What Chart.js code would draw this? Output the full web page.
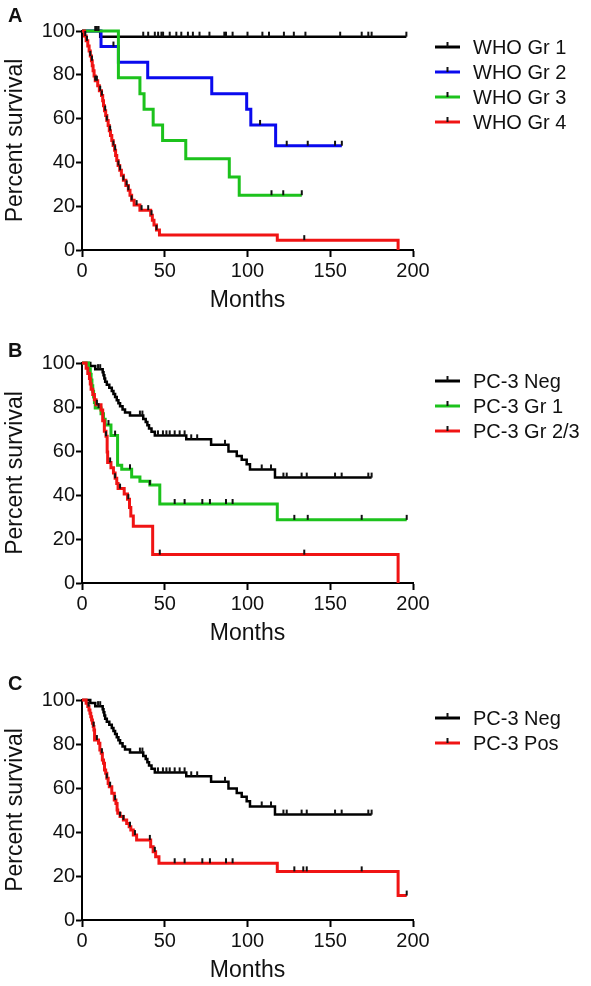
<!DOCTYPE html>
<html>
<head>
<meta charset="utf-8">
<script src="https://cdn.jsdelivr.net/npm/chart.js@4.4.1/dist/chart.umd.min.js"></script>
<style>
  body { margin: 0; background: #fff; }
  .panel { position: absolute; left: 0; }
</style>
</head>
<body>
<canvas id="chartA" class="panel" width="591" height="320" style="top:0px"></canvas>
<canvas id="chartB" class="panel" width="591" height="330" style="top:320px"></canvas>
<canvas id="chartC" class="panel" width="591" height="336" style="top:650px"></canvas>
<script>
const FONT = "'Liberation Sans', Arial, sans-serif";

// axis ticks
const monthTicks = [0, 50, 100, 150, 200];
const percentTicks = [0, 20, 40, 60, 80, 100];

// Panel A - WHO grade
const who1Times = [0, 11];
const who1Surv = [100, 97.4];
const who1Censor = [8, 9, 10, 37, 40, 44, 46, 48, 49, 53, 57, 60, 64, 67, 71, 77, 86, 87, 91, 100, 109, 113, 122, 128, 135, 156, 169, 173, 175, 196];

const who2Times = [0, 11.5, 22, 39.7, 78.4, 99.5, 102, 117];
const who2Surv = [100, 92.9, 85.7, 78.6, 71.4, 64.3, 57.1, 47.6];
const who2Censor = [19, 107.6, 123.7, 136.4, 152.9, 157];

const who3Times = [0, 22, 35, 37.5, 43, 48.7, 62.7, 89, 95];
const who3Surv = [100, 78.6, 71.4, 64.3, 57.1, 50, 41.7, 33.3, 25];
const who3Censor = [114.5, 121.6, 132.8];

const who4Times = [0, 1.5, 2.5, 3.5, 4.3, 5, 5.7, 6.2, 6.7, 7.3, 8, 9.5, 10.5, 11.8, 12.5, 13, 13.6, 14.3, 15, 15.8, 16.5, 17.2, 18, 18.8, 19.7, 20.3, 21, 21.8, 22.8, 23.8, 25, 26.5, 28, 29, 30, 31.5, 35, 41.5, 42.5, 43.5, 45, 46.8, 118, 191];
const who4Surv = [100, 97.7, 95.5, 93.2, 90.9, 88.6, 86.4, 84.1, 81.8, 79.5, 77.3, 75, 72.7, 70.5, 68.2, 65.9, 63.6, 61.4, 59.1, 56.8, 54.5, 52.3, 50, 47.7, 45.5, 43.2, 40.9, 38.6, 36.4, 34.1, 31.8, 29.5, 27.3, 25, 22.7, 20.5, 18.2, 15.9, 13.6, 11.4, 9.1, 6.8, 4.5, 0];
const who4Censor = [2, 3, 5, 6, 8, 9, 11, 12, 14, 15, 17, 19, 20, 22, 23, 25, 27, 28, 30, 33, 36, 40, 42, 45, 134.3];

// Panels B and C - PC-3
const pc3NegTimes = [0, 5, 8, 12.5, 13, 13.5, 14, 15, 16.5, 18, 19, 20, 21, 22, 23, 24.5, 26, 29, 37, 38.5, 39.5, 40.5, 42, 44, 63, 78, 88.5, 93.5, 96.5, 99.5, 101.5, 116.6];
const pc3NegSurv = [100, 98.6, 97.2, 95.8, 94.4, 93, 91.5, 90.1, 88.7, 87.3, 85.9, 84.5, 83.1, 81.7, 80.3, 78.9, 77.5, 76.1, 74.6, 73.2, 71.7, 70.2, 68.7, 67.1, 65.3, 62.8, 59.8, 57.7, 56, 54, 51.6, 47.9];
const pc3NegCensor = [9.7, 11, 35, 36.5, 45.9, 48.9, 51, 53, 56, 59, 62, 66, 69.6, 86.4, 108.6, 114.2, 121.7, 123.7, 132.7, 135.8, 152.9, 156.9, 173, 175];

const pc3Gr1Times = [0, 4, 5, 5.5, 6, 6.5, 7, 7.5, 8, 11.5, 13, 14, 17.5, 21.5, 24, 30, 35, 41, 47, 118];
const pc3Gr1Surv = [100, 97.4, 94.9, 92.3, 89.7, 87.2, 84.6, 82, 79.5, 76.9, 74.4, 71.8, 67, 53.5, 51.7, 48.2, 46.3, 44.5, 35.9, 28.7];
const pc3Gr1Censor = [10, 16, 20, 29, 41, 56, 62, 72.7, 77.3, 87, 91, 128.3, 136.4, 169, 196.2];

const pc3Gr23Times = [0, 2.5, 3.5, 4.5, 5, 5.5, 6.5, 7.5, 8.5, 11.5, 12.5, 13.5, 14.5, 15.2, 15.5, 17.5, 19, 20, 21, 21.8, 25.5, 27.5, 28.7, 29.5, 31, 42.7, 191];
const pc3Gr23Surv = [100, 97.6, 95.2, 92.9, 90.5, 88.1, 85.7, 83.3, 81, 78.6, 73.8, 69, 66.7, 59.5, 54.8, 52.4, 50, 47.6, 45.2, 42.9, 40.5, 38.1, 34.3, 30.5, 25.8, 12.9, 0];
const pc3Gr23Censor = [9, 14.5, 17, 20, 23, 28, 47, 134.3];

const pc3PosTimes = [0, 2.5, 3.5, 4.2, 4.8, 5.3, 5.8, 6.3, 6.8, 7.2, 7.6, 10, 10.8, 11.6, 12.3, 13, 13.6, 14.3, 15, 15.8, 16.5, 18, 19.5, 20.5, 21.2, 21.6, 23, 25, 27, 28.5, 29.5, 31, 33, 41.5, 43, 44.5, 46.5, 118, 191];
const pc3PosSurv = [100, 98.5, 97, 95.5, 94, 92.4, 90.9, 89.4, 87.9, 86.4, 81.8, 80.3, 77.3, 75.8, 72.7, 71.2, 68.2, 66.7, 64.4, 62.1, 60.6, 57.6, 54.5, 53, 50, 48.5, 47, 45.5, 43.9, 42.4, 40.9, 38.6, 36.4, 33.3, 31, 28.8, 25.8, 22.1, 11.1];
const pc3PosCensor = [4, 7, 9, 12, 15, 17, 20, 23, 25, 29, 32, 41, 44, 56, 62, 72.7, 77.3, 87, 91, 128.3, 133.7, 135.8, 169, 196.2];

const BLACK = "#000000";
const BLUE = "#0a0aee";
const GREEN = "#1cc21c";
const RED = "#f01414";

function kmPoints(times, surv, censor) {
    const pts = times.map((t, i) => ({ x: t, y: surv[i] }));
    const last = censor.length ? Math.max(...censor) : 0;
    if (last > times[times.length - 1]) {
        pts.push({ x: last, y: surv[surv.length - 1] });
    }
    return pts;
}

function survAt(times, surv, t) {
    let s = surv[0];
    for (let i = 0; i < times.length; i++) {
        if (times[i] <= t) s = surv[i];
    }
    return s;
}

// legend drawn to the right of the plot, plus panel letter
const sideLegend = {
    id: "sideLegend",
    afterDraw(chart, args, opts) {
        const ctx = chart.ctx;
        const x0 = chart.chartArea.right + 22;
        ctx.save();
        ctx.font = "20px " + FONT;
        ctx.textBaseline = "middle";
        let y = opts.top;
        chart.data.datasets.filter(d => d.isCurve).forEach(d => {
            ctx.strokeStyle = d.borderColor;
            ctx.lineWidth = 3;
            ctx.beginPath();
            ctx.moveTo(x0, y);
            ctx.lineTo(x0 + 25, y);
            ctx.stroke();
            ctx.strokeStyle = "#111";
            ctx.lineWidth = 2;
            ctx.beginPath();
            ctx.moveTo(x0 + 12.5, y);
            ctx.lineTo(x0 + 12.5, y - 5);
            ctx.stroke();
            ctx.fillStyle = "#111";
            ctx.fillText(d.label, x0 + 38, y + 1);
            y += 25;
        });
        ctx.font = "bold 20px " + FONT;
        ctx.textBaseline = "alphabetic";
        ctx.fillText(opts.letter, 8, opts.letterY);
        ctx.restore();
    }
};

function makePanel(id, letter, letterY, legendTop, padTop, padBottom, series) {
    const datasets = [];
    series.forEach((s, i) => {
        datasets.push({
            label: s.label,
            isCurve: true,
            data: kmPoints(s.times, s.surv, s.censor),
            borderColor: s.color,
            borderWidth: s.width,
            stepped: true,
            pointRadius: 0,
            fill: false,
            clip: false,
            order: 20 - i
        });
        datasets.push({
            label: s.label + " censored",
            data: s.censor.map(t => ({ x: t, y: survAt(s.times, s.surv, t) })),
            showLine: false,
            pointStyle: "dash",
            rotation: -90,
            pointRadius: 5,
            pointBorderWidth: 2,
            pointBorderColor: "#111",
            pointBackgroundColor: "#111",
            clip: false,
            order: 1
        });
    });

    const ctx = document.getElementById(id).getContext("2d");
    return new Chart(ctx, {
        type: "line",
        data: { datasets: datasets },
        plugins: [sideLegend],
        options: {
            responsive: false,
            animation: false,
            events: [],
            layout: {
                padding: { top: padTop, right: 178, bottom: padBottom, left: 0 }
            },
            plugins: {
                legend: { display: false },
                tooltip: { enabled: false },
                sideLegend: { letter: letter, letterY: letterY, top: legendTop }
            },
            scales: {
                x: {
                    type: "linear",
                    min: 0,
                    max: 200,
                    afterBuildTicks: s => { s.ticks = monthTicks.map(v => ({ value: v })); },
                    ticks: {
                        color: "#111",
                        font: { size: 20, family: FONT },
                        padding: 2,
                        maxRotation: 0,
                        autoSkip: false
                    },
                    grid: {
                        drawOnChartArea: false,
                        drawTicks: true,
                        tickLength: 7,
                        tickWidth: 2,
                        tickColor: "#000"
                    },
                    border: { display: true, color: "#000", width: 2 },
                    title: {
                        display: true,
                        text: "Months",
                        color: "#111",
                        font: { size: 23, family: FONT },
                        padding: { top: 0, bottom: 0 }
                    },
                    afterFit: s => { s.height = 64; }
                },
                y: {
                    min: 0,
                    max: 100,
                    afterBuildTicks: s => { s.ticks = percentTicks.map(v => ({ value: v })); },
                    ticks: {
                        color: "#111",
                        font: { size: 20, family: FONT },
                        padding: 1
                    },
                    grid: {
                        drawOnChartArea: false,
                        drawTicks: true,
                        tickLength: 6,
                        tickWidth: 2,
                        tickColor: "#000"
                    },
                    border: { display: true, color: "#000", width: 2 },
                    title: {
                        display: true,
                        text: "Percent survival",
                        color: "#111",
                        font: { size: 23, family: FONT },
                        padding: { top: 2, bottom: 0 }
                    },
                    afterFit: s => { s.width = 82; }
                }
            }
        }
    });
}

makePanel("chartA", "A", 22, 47, 31, 6, [
    { label: "WHO Gr 1", times: who1Times, surv: who1Surv, censor: who1Censor, color: BLACK, width: 2.5 },
    { label: "WHO Gr 2", times: who2Times, surv: who2Surv, censor: who2Censor, color: BLUE, width: 3 },
    { label: "WHO Gr 3", times: who3Times, surv: who3Surv, censor: who3Censor, color: GREEN, width: 3 },
    { label: "WHO Gr 4", times: who4Times, surv: who4Surv, censor: who4Censor, color: RED, width: 3 }
]);

makePanel("chartB", "B", 37, 61, 43, 3, [
    { label: "PC-3 Neg", times: pc3NegTimes, surv: pc3NegSurv, censor: pc3NegCensor, color: BLACK, width: 2.5 },
    { label: "PC-3 Gr 1", times: pc3Gr1Times, surv: pc3Gr1Surv, censor: pc3Gr1Censor, color: GREEN, width: 3 },
    { label: "PC-3 Gr 2/3", times: pc3Gr23Times, surv: pc3Gr23Surv, censor: pc3Gr23Censor, color: RED, width: 3 }
]);

makePanel("chartC", "C", 40, 68, 50, 2, [
    { label: "PC-3 Neg", times: pc3NegTimes, surv: pc3NegSurv, censor: pc3NegCensor, color: BLACK, width: 2.5 },
    { label: "PC-3 Pos", times: pc3PosTimes, surv: pc3PosSurv, censor: pc3PosCensor, color: RED, width: 3 }
]);
</script>
</body>
</html>
